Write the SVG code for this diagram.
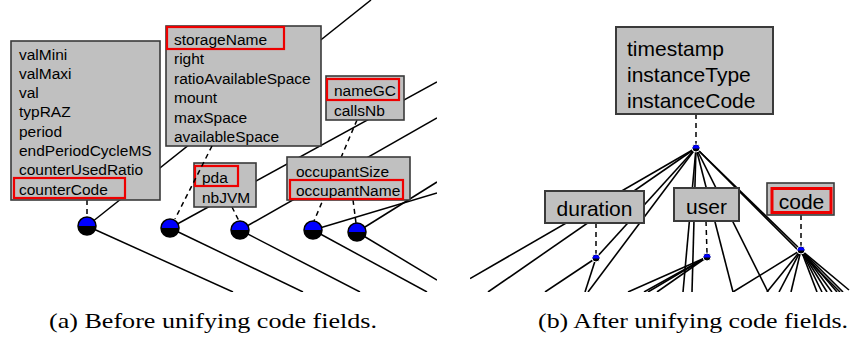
<svg xmlns="http://www.w3.org/2000/svg" xmlns:xlink="http://www.w3.org/1999/xlink" width="851" height="339" viewBox="0 0 851 339">
<style>
.box{fill:#c0c0c0;stroke:#3a3a3a;stroke-width:1.6}
.boxb{fill:#c0c0c0;stroke:#3a3a3a;stroke-width:2}
.hl{fill:none;stroke:#ee0000;stroke-width:2.2}
.hlb{fill:none;stroke:#ee0000;stroke-width:3}
.ln{stroke:#000;stroke-width:1.5;fill:none}
.lnb{stroke:#000;stroke-width:1.6;fill:none}
.dash{stroke:#000;stroke-width:1.5;fill:none;stroke-dasharray:5 4}
.ta{font-family:"Liberation Sans",Arial,sans-serif;font-size:15.5px;fill:#000}
.tb{font-family:"Liberation Sans",Arial,sans-serif;font-size:21px;fill:#000}
.cap{font-family:"Liberation Serif","Times New Roman",serif;font-size:22px;fill:#000}
</style>
<defs>
<clipPath id="clipA"><rect x="0" y="0" width="437" height="292"/></clipPath>
<clipPath id="clipB"><rect x="470" y="0" width="381" height="292"/></clipPath>
<g id="joint">
<circle r="9" fill="#000"/>
<path d="M-9 0 A9 9 0 0 1 9 0 Z" fill="#0000ff"/>
<circle r="9" fill="none" stroke="#000" stroke-width="1.5"/>
</g>
<g id="sjoint">
<circle r="4" fill="#000" stroke="#fff" stroke-width="1"/>
<path d="M-3.5 0.5 A3.5 3.5 0 0 1 3.5 0.5 Z" fill="#0000ff"/>
</g>
</defs>
<rect width="851" height="339" fill="#fff"/>

<!-- Panel (a) -->
<g clip-path="url(#clipA)">
<g id="connectors-a">
<line class="ln" x1="87" y1="226" x2="371" y2="0"/>
<line class="ln" x1="87" y1="226" x2="233" y2="292"/>
<line class="ln" x1="170" y1="228" x2="437" y2="82"/>
<line class="ln" x1="170" y1="228" x2="303" y2="292"/>
<line class="ln" x1="240" y1="230" x2="437" y2="118"/>
<line class="ln" x1="240" y1="230" x2="360" y2="292"/>
<line class="ln" x1="313" y1="230" x2="437" y2="193"/>
<line class="ln" x1="313" y1="230" x2="427" y2="292"/>
<line class="ln" x1="357" y1="232" x2="437" y2="182"/>
<line class="ln" x1="357" y1="232" x2="437" y2="280"/>
<line class="dash" x1="87" y1="200" x2="87" y2="218"/>
<line class="dash" x1="232" y1="207" x2="239" y2="221"/>
<line class="dash" x1="357" y1="120" x2="314" y2="221"/>
<line class="dash" x1="353" y1="200" x2="356" y2="223"/>
</g>

<g id="counter">
<rect class="box" x="11" y="41" width="149" height="159"/>
<text class="ta" x="19" y="59.5">valMini</text>
<text class="ta" x="19" y="78.8">valMaxi</text>
<text class="ta" x="19" y="98.1">val</text>
<text class="ta" x="19" y="117.4">typRAZ</text>
<text class="ta" x="19" y="136.7">period</text>
<text class="ta" x="19" y="156">endPeriodCycleMS</text>
<text class="ta" x="19" y="175.3">counterUsedRatio</text>
<text class="ta" x="19" y="194.6">counterCode</text>
<rect class="hl" x="14" y="178" width="111" height="20"/>
</g>

<g id="storage">
<rect class="box" x="166" y="26" width="155" height="120"/>
<text class="ta" x="174" y="44.5">storageName</text>
<text class="ta" x="174" y="64">right</text>
<text class="ta" x="174" y="83.5">ratioAvailableSpace</text>
<text class="ta" x="174" y="103">mount</text>
<text class="ta" x="174" y="122.5">maxSpace</text>
<text class="ta" x="174" y="142">availableSpace</text>
<rect class="hl" x="167" y="27" width="117" height="22"/>
</g>

<g id="pda">
<rect class="box" x="194" y="163" width="62" height="44"/>
<text class="ta" x="202" y="182.5">pda</text>
<text class="ta" x="202" y="202.5">nbJVM</text>
<rect class="hl" x="195" y="166" width="43" height="20"/>
</g>

<g id="namegc">
<rect class="box" x="326" y="76" width="78" height="44"/>
<text class="ta" x="334" y="95.5">nameGC</text>
<text class="ta" x="334" y="115.5">callsNb</text>
<rect class="hl" x="327" y="79" width="72" height="21"/>
</g>

<g id="occupant">
<rect class="box" x="287" y="157" width="123" height="43"/>
<text class="ta" x="296" y="176.5">occupantSize</text>
<text class="ta" x="296" y="195.5">occupantName</text>
<rect class="hl" x="290" y="180" width="113" height="19"/>
</g>

<line class="dash" x1="212" y1="146" x2="175" y2="219"/>

<g id="joints-a">
<use xlink:href="#joint" x="87" y="226"/>
<use xlink:href="#joint" x="170" y="228"/>
<use xlink:href="#joint" x="240" y="230"/>
<use xlink:href="#joint" x="313" y="230"/>
<use xlink:href="#joint" x="357" y="232"/>
</g>
</g>

<!-- Panel (b) -->
<g clip-path="url(#clipB)">
<g id="connectors-b">
<line class="lnb" x1="696" y1="148" x2="470" y2="278.6"/>
<line class="lnb" x1="696" y1="148" x2="488" y2="292"/>
<line class="lnb" x1="696" y1="148" x2="596" y2="258"/>
<line class="lnb" x1="696" y1="148" x2="588" y2="292"/>
<line class="lnb" x1="696" y1="148" x2="683" y2="292"/>
<line class="lnb" x1="696" y1="148" x2="692" y2="292"/>
<line class="lnb" x1="696" y1="148" x2="733" y2="292"/>
<line class="lnb" x1="696" y1="148" x2="768" y2="292"/>
<line class="lnb" x1="696" y1="148" x2="801" y2="250"/>
<line class="lnb" x1="696" y1="148" x2="840" y2="292"/>
<line class="lnb" x1="596" y1="258" x2="545" y2="292"/>
<line class="lnb" x1="596" y1="258" x2="585" y2="292"/>
<line class="lnb" x1="707" y1="257" x2="628" y2="292"/>
<line class="lnb" x1="707" y1="257" x2="644" y2="292"/>
<line class="lnb" x1="707" y1="257" x2="648" y2="292"/>
<line class="lnb" x1="707" y1="257" x2="657" y2="292"/>
<line class="lnb" x1="801" y1="250" x2="733" y2="292"/>
<line class="lnb" x1="801" y1="250" x2="767" y2="292"/>
<line class="lnb" x1="801" y1="250" x2="779" y2="292"/>
<line class="lnb" x1="801" y1="250" x2="791" y2="292"/>
<line class="lnb" x1="801" y1="250" x2="817" y2="292"/>
<line class="lnb" x1="801" y1="250" x2="822" y2="292"/>
<line class="lnb" x1="801" y1="250" x2="827" y2="292"/>
<line class="lnb" x1="801" y1="250" x2="832" y2="292"/>
<line class="lnb" x1="801" y1="250" x2="837" y2="292"/>
<line class="lnb" x1="801" y1="250" x2="843" y2="292"/>
<line class="lnb" x1="801" y1="250" x2="849" y2="290"/>
<line class="dash" x1="696" y1="114" x2="696" y2="144"/>
<line class="dash" x1="596" y1="223" x2="596" y2="254"/>
<line class="dash" x1="706" y1="221" x2="707" y2="253"/>
<line class="dash" x1="801" y1="215" x2="801" y2="246"/>
</g>

<g id="header">
<rect class="boxb" x="616" y="27" width="157" height="87"/>
<text class="tb" x="627" y="55.5">timestamp</text>
<text class="tb" x="627" y="81.5">instanceType</text>
<text class="tb" x="627" y="107.5">instanceCode</text>
</g>

<g id="duration">
<rect class="boxb" x="545" y="191" width="99" height="32"/>
<text class="tb" x="594.5" y="215.5" text-anchor="middle">duration</text>
</g>

<g id="user">
<rect class="boxb" x="674" y="188" width="65" height="33"/>
<text class="tb" x="706.5" y="213.5" text-anchor="middle">user</text>
</g>

<g id="code">
<rect class="box" x="767" y="183" width="67" height="32"/>
<rect class="hlb" x="772" y="188.5" width="59" height="24"/>
<text class="tb" x="801.5" y="208.5" text-anchor="middle">code</text>
</g>

<g id="joints-b">
<use xlink:href="#sjoint" x="696" y="148"/>
<use xlink:href="#sjoint" x="596" y="258"/>
<use xlink:href="#sjoint" x="707" y="257"/>
<use xlink:href="#sjoint" x="801" y="250"/>
</g>
</g>

<g id="captions">
<text class="cap" x="49" y="328" textLength="328" lengthAdjust="spacingAndGlyphs">(a) Before unifying code fields.</text>
<text class="cap" x="538" y="328" textLength="310" lengthAdjust="spacingAndGlyphs">(b) After unifying code fields.</text>
</g>
</svg>
